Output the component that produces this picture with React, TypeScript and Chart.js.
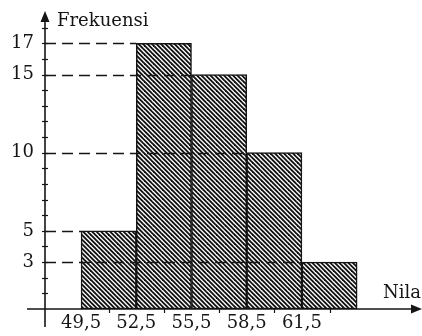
import React, { useEffect, useRef } from 'react';
import { Chart, registerables } from 'chart.js';

Chart.register(...registerables);

// ---- data ----
const classMarks = [51, 54, 57, 60, 63];
const frequencies = [5, 17, 15, 10, 3];
const xTickValues = [49.5, 52.5, 55.5, 58.5, 61.5];
const yTickValues = [3, 5, 10, 15, 17];
const yTitle = 'Frekuensi';
const xTitle = 'Nila';

const FONT = '"DejaVu Serif", "Liberation Serif", serif';
const INK = '#151515';

function makeHatch(ctx: CanvasRenderingContext2D) {
  const s = 9;
  const c = document.createElement('canvas');
  c.width = s;
  c.height = s;
  const g = c.getContext('2d')!;
  g.fillStyle = '#ffffff';
  g.fillRect(0, 0, s, s);
  g.strokeStyle = '#111111';
  g.lineWidth = 1.9;
  for (const k of [-9, -4.5, 0, 4.5, 9]) {
    g.beginPath();
    g.moveTo(-3, -3 + k);
    g.lineTo(s + 3, s + 3 + k);
    g.stroke();
  }
  return ctx.createPattern(c, 'repeat');
}

const histPlugin = {
  id: 'histAxes',
  afterDatasetsDraw(chart: any) {
    const { ctx, chartArea, scales } = chart;
    const y = scales.y;
    const x0 = chartArea.left;
    const y0 = chartArea.bottom;
    const meta = chart.getDatasetMeta(0);
    ctx.save();
    // dashed guide lines from the axis to each bar's left edge
    ctx.strokeStyle = INK;
    ctx.lineWidth = 1.4;
    ctx.setLineDash([11, 6]);
    frequencies.forEach((f, i) => {
      const bar = meta.data[i] as any;
      const left = bar.x - bar.width / 2;
      const py = Math.round(y.getPixelForValue(f)) + 0.5;
      ctx.beginPath();
      ctx.moveTo(x0, py);
      ctx.lineTo(left, py);
      ctx.stroke();
    });
    ctx.setLineDash([]);

    // axes lines
    ctx.lineWidth = 1.6;
    ctx.beginPath();
    ctx.moveTo(x0, y0 + 18);
    ctx.lineTo(x0, chartArea.top + 6);
    ctx.stroke();
    ctx.beginPath();
    ctx.moveTo(x0 - 18, y0);
    ctx.lineTo(chartArea.right - 6, y0);
    ctx.stroke();

    // arrow heads
    ctx.fillStyle = INK;
    ctx.beginPath();
    ctx.moveTo(x0, chartArea.top - 1);
    ctx.lineTo(x0 - 4.5, chartArea.top + 10);
    ctx.lineTo(x0 + 4.5, chartArea.top + 10);
    ctx.closePath();
    ctx.fill();
    ctx.beginPath();
    ctx.moveTo(chartArea.right + 1, y0);
    ctx.lineTo(chartArea.right - 10, y0 - 4.5);
    ctx.lineTo(chartArea.right - 10, y0 + 4.5);
    ctx.closePath();
    ctx.fill();

    // minor ticks on y (each unit)
    ctx.lineWidth = 1.2;
    for (let v = 1; v <= 18; v++) {
      const py = Math.round(y.getPixelForValue(v)) + 0.5;
      ctx.beginPath();
      ctx.moveTo(x0 - 3, py);
      ctx.lineTo(x0 + 3, py);
      ctx.stroke();
    }
    // ticks on x at class marks
    const xs = scales.x;
    classMarks.forEach((m) => {
      const px = Math.round(xs.getPixelForValue(m)) + 0.5;
      ctx.beginPath();
      ctx.moveTo(px, y0);
      ctx.lineTo(px, y0 + 4);
      ctx.stroke();
    });

    // axis titles
    ctx.font = `18px ${FONT}`;
    ctx.textBaseline = 'alphabetic';
    ctx.textAlign = 'left';
    ctx.fillText(yTitle, x0 + 12, 26);
    ctx.textAlign = 'right';
    ctx.fillText(xTitle, chartArea.right, y0 - 11);
    ctx.restore();
  },
};

export default function App() {
  const ref = useRef<HTMLCanvasElement>(null);
  useEffect(() => {
    document.body.style.margin = '0';
    const canvas = ref.current!;
    const ctx = canvas.getContext('2d')!;
    const hatch = makeHatch(ctx);
    const chart = new Chart(canvas, {
      type: 'bar',
      data: {
        datasets: [
          {
            data: classMarks.map((m, i) => ({ x: m, y: frequencies[i] })),
            backgroundColor: hatch as any,
            borderColor: INK,
            borderWidth: 1.5,
            borderSkipped: false,
            barPercentage: 1,
            categoryPercentage: 1,
          },
        ],
      },
      options: {
        responsive: false,
        animation: false,
        events: [],
        layout: { padding: { top: 12, right: 1, left: 0, bottom: 0 } },
        plugins: { legend: { display: false }, tooltip: { enabled: false } },
        scales: {
          x: {
            type: 'linear',
            offset: false,
            min: 47.54,
            max: 67.97,
            grid: { display: false, drawTicks: false },
            border: { display: false },
            afterBuildTicks: (s: any) => {
              s.ticks = xTickValues.map((v) => ({ value: v }));
            },
            afterFit: (s: any) => {
              s.height = 27;
              s.paddingLeft = 0;
              s.paddingRight = 0;
            },
            ticks: {
              autoSkip: false,
              maxRotation: 0,
              padding: 4,
              color: INK,
              font: { family: FONT, size: 18 },
              callback: (v: any) => Number(v).toFixed(1).replace('.', ','),
            },
          },
          y: {
            type: 'linear',
            min: 0,
            max: 19,
            grid: { display: false, drawTicks: false },
            border: { display: false },
            afterBuildTicks: (s: any) => {
              s.ticks = yTickValues.map((v) => ({ value: v }));
            },
            afterFit: (s: any) => {
              s.width = 45;
              s.paddingTop = 0;
              s.paddingBottom = 0;
            },
            ticks: {
              padding: 11,
              color: INK,
              font: { family: FONT, size: 18 },
            },
          },
        },
      },
      plugins: [histPlugin],
    });
    return () => chart.destroy();
  }, []);
  return (
    <div style={{ width: 422, height: 336 }}>
      <canvas ref={ref} width={422} height={336} style={{ display: 'block' }} />
    </div>
  );
}
